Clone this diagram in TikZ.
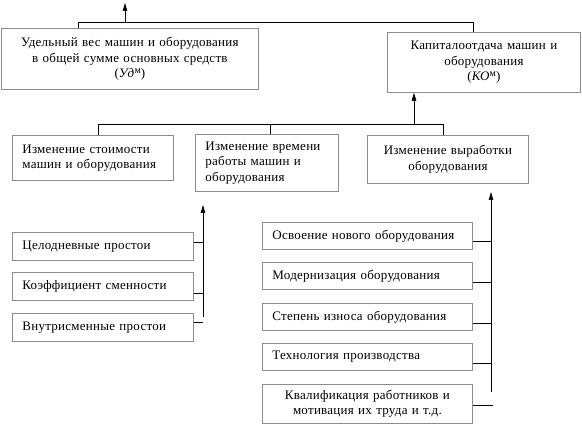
\documentclass[tikz,border=0pt]{standalone}
\usepackage{fontspec}
\setmainfont[LetterSpace=2]{Liberation Serif}
\usetikzlibrary{arrows.meta,shadows}
\newcommand{\supm}{\raisebox{0.75ex}{\fontsize{10}{10}\selectfont м}}
\begin{document}
\begin{tikzpicture}[x=1pt,y=-1pt,
  box/.style={draw=black!45, line width=0.8pt, fill=white, anchor=north west,
    inner xsep=10pt, inner ysep=0pt, font=\fontsize{13}{15.5}\selectfont,
    drop shadow={shadow xshift=0.9pt, shadow yshift=-0.9pt, fill=black!70, opacity=1}},
  lbox/.style={box, align=left},
  cbox/.style={box, align=center},
  conn/.style={line width=0.7pt},
  arr/.style={conn, -{Triangle[length=8pt,width=4.5pt]}}]
\useasboundingbox (0,0) rectangle (582,433);

\node[cbox, text width=237pt, minimum height=61pt] (b1) at (1,28)
  {Удельный вес машин и оборудования\\в общей сумме основных средств\\(\textit{Уд}\supm)};
\node[cbox, text width=173pt, minimum height=60pt] (b2) at (387,32)
  {Капиталоотдача машин и\\оборудования\\(\textit{КО}\supm)};
\node[lbox, text width=141pt, minimum height=45pt] (b3) at (12,135)
  {Изменение стоимости\\машин и оборудования};
\node[lbox, text width=123pt, minimum height=57pt] (b4) at (195,134)
  {Изменение времени\\работы машин и\\оборудования};
\node[cbox, text width=141pt, minimum height=48pt] (b5) at (367,135)
  {Изменение выработки\\оборудования};

\node[lbox, text width=161pt, minimum height=28pt] (l1) at (12,232) {Целодневные простои};
\node[lbox, text width=161pt, minimum height=28pt] (l2) at (12,272) {Коэффициент сменности};
\node[lbox, text width=161pt, minimum height=28pt] (l3) at (12,313) {Внутрисменные простои};

\node[lbox, text width=190pt, minimum height=27pt] (r1) at (262,222) {Освоение нового оборудования};
\node[lbox, text width=190pt, minimum height=27pt] (r2) at (262,262) {Модернизация оборудования};
\node[lbox, text width=190pt, minimum height=27pt] (r3) at (262,303) {Степень износа оборудования};
\node[lbox, text width=190pt, minimum height=27pt] (r4) at (262,343) {Технология производства};
\node[cbox, text width=190pt, minimum height=39pt] (r5) at (262,384)
  {Квалификация работников и\\мотивация их труда и т.д.};

% top
\coordinate (t0) at (125,22);
\coordinate (t1) at (125,3);
\draw[conn] ([xshift=77pt]b1.north west) -- ++(0,-6) -| ([xshift=86pt]b2.north west);
\draw[arr] (t0) -- (t1);

% middle
\draw[conn] ([xshift=86pt]b3.north west) -- ++(0,-11) -| ([xshift=76pt]b5.north west);
\draw[conn] ([xshift=75pt]b4.north west) -- ++(0,-10);
\coordinate (m0) at (414,124);
\draw[arr] (m0) -- (m0 |- b2.south);

% left group
\coordinate (la0) at (203,317);
\coordinate (la1) at (203,205);
\draw[arr] (la0) -- (la1);
\draw[conn] ([yshift=4pt]l1.east) -- ([yshift=4pt]l1.east -| la0);
\draw[conn] ([yshift=-7pt]l2.east) -- ([yshift=-7pt]l2.east -| la0);
\draw[conn] ([yshift=5pt]l3.east) -- ([yshift=5pt]l3.east -| la0);

% right group
\coordinate (ra0) at (491,392);
\coordinate (ra1) at (491,192);
\draw[arr] (ra0) -- (ra1);
\draw[conn] ([yshift=-5.5pt]r1.east) -- ([yshift=-5.5pt]r1.east -| ra0);
\draw[conn] ([yshift=-6.5pt]r2.east) -- ([yshift=-6.5pt]r2.east -| ra0);
\draw[conn] ([yshift=-6.5pt]r3.east) -- ([yshift=-6.5pt]r3.east -| ra0);
\draw[conn] ([yshift=-6.5pt]r4.east) -- ([yshift=-6.5pt]r4.east -| ra0);
\draw[conn] ([yshift=-1.5pt]r5.east) -- ++(20,0);
\end{tikzpicture}
\end{document}
